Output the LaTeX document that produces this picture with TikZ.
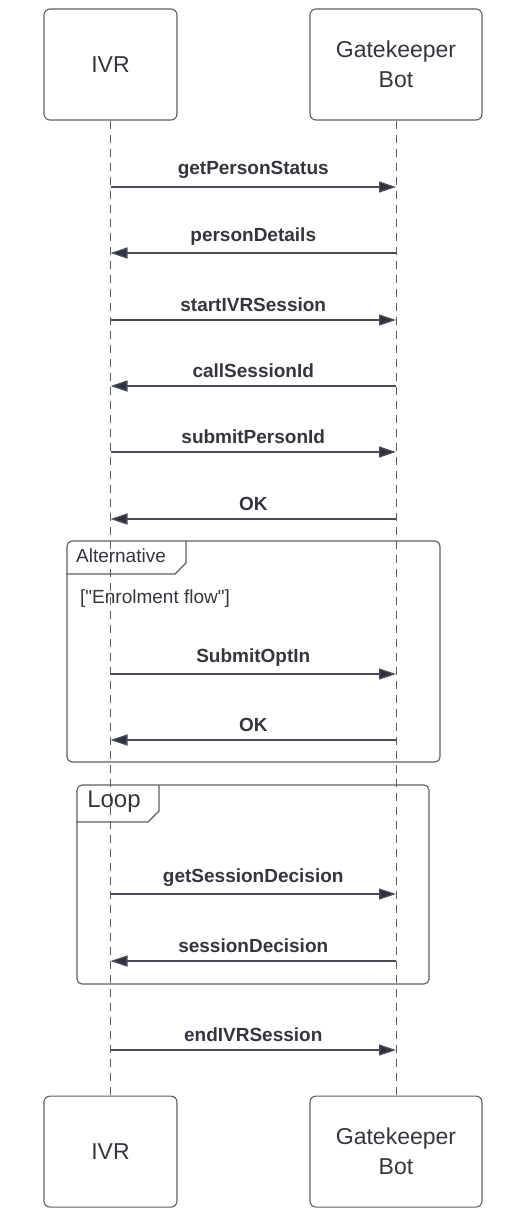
\documentclass[tikz,border=0pt]{standalone}
\usepackage{fontspec}
\setmainfont{Liberation Sans}
\definecolor{sqgrey}{HTML}{5A5D63}
\definecolor{sqline}{HTML}{474B55}
\definecolor{sqhead}{HTML}{2F3341}
\definecolor{sqtext}{HTML}{33363D}
\usetikzlibrary{arrows.meta,positioning}

\begin{document}
\begin{tikzpicture}[x=1pt,y=1pt,
  actor/.style={draw=sqgrey,line width=1.1pt,rounded corners=6pt,align=center,text=sqtext,
    font=\fontsize{23}{30}\selectfont,minimum height=111pt,inner sep=0pt},
  life/.style={draw=sqgrey,line width=0.9pt,dash pattern=on 8pt off 6pt},
  msg/.style={-{Triangle[length=17pt,width=11pt,fill=sqhead]},line width=1.3pt,draw=sqline},
  msglabel/.style={font=\bfseries\fontsize{19}{22}\selectfont,text=sqtext,midway,above=4pt},
  frame/.style={draw=sqgrey,line width=1.1pt,rounded corners=5pt},
  tab/.style={draw=sqgrey,line width=1.1pt},
  framelabel/.style={text=sqtext,inner sep=0pt}]
  \useasboundingbox (0,0) rectangle (525,-1216);
  \node[actor,minimum width=133pt] (ivr) at (110.5,-64.5) {IVR};
  \node[actor,minimum width=172pt] (gk) at (396,-64.5) {Gatekeeper\\Bot};
  \node[actor,minimum width=133pt,below=975pt of ivr] (ivrend) {IVR};
  \node[actor,minimum width=172pt,below=975pt of gk] (gkend) {Gatekeeper\\Bot};
  \draw[life] (ivr) -- (ivrend);
  \draw[life] (gk) -- (gkend);
  % fragments
  \node[frame,minimum width=373pt,minimum height=221pt] (alt) at (253.5,-651.5) {};
  \draw[tab] (alt.north west |- 0,-574) -- (175,-574) -- (186,-563) -- (186,-541);
  \node[framelabel,font=\fontsize{19}{22}\selectfont] (altname) at (121,-556) {Alternative};
  \node[framelabel,font=\fontsize{19}{22}\selectfont,anchor=west] (guard) at (80,-599)
    {[\textquotedbl Enrolment flow\textquotedbl]};
  \node[frame,minimum width=352pt,minimum height=199pt] (loop) at (253,-884.5) {};
  \draw[tab] (loop.north west |- 0,-822) -- (148,-822) -- (159,-811) -- (159,-785);
  \node[framelabel,font=\fontsize{24}{28}\selectfont] (loopname) at (114,-802) {Loop};
  % messages
  \draw[msg] (ivr |- 0,-187) -- node[msglabel] {getPersonStatus} (gk |- 0,-187);
  \draw[msg] (gk |- 0,-253) -- node[msglabel] {personDetails} (ivr |- 0,-253);
  \draw[msg] (ivr |- 0,-320) -- node[msglabel] {startIVRSession} (gk |- 0,-320);
  \draw[msg] (gk |- 0,-386) -- node[msglabel] {callSessionId} (ivr |- 0,-386);
  \draw[msg] (ivr |- 0,-452) -- node[msglabel] {submitPersonId} (gk |- 0,-452);
  \draw[msg] (gk |- 0,-519) -- node[msglabel] {OK} (ivr |- 0,-519);
  \draw[msg] (ivr |- 0,-674) -- node[msglabel] {SubmitOptIn} (gk |- 0,-674);
  \draw[msg] (gk |- 0,-740) -- node[msglabel] {OK} (ivr |- 0,-740);
  \draw[msg] (ivr |- 0,-894) -- node[msglabel] {getSessionDecision} (gk |- 0,-894);
  \draw[msg] (gk |- 0,-961) -- node[msglabel] {sessionDecision} (ivr |- 0,-961);
  \draw[msg] (ivr |- 0,-1050) -- node[msglabel] {endIVRSession} (gk |- 0,-1050);
\end{tikzpicture}
\end{document}
